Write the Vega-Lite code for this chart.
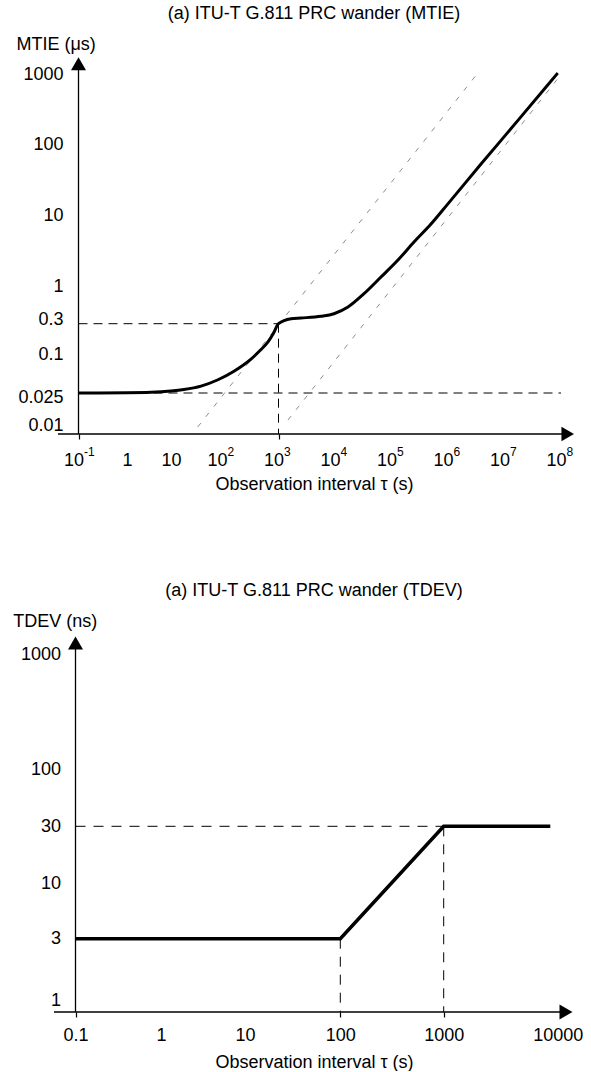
{
  "$schema": "https://vega.github.io/schema/vega-lite/v6.json",
  "padding": {"left": 12, "top": 5, "right": 5, "bottom": 0},
  "autosize": {"type": "pad"},
  "spacing": 89,
  "config": {
    "view": {"stroke": null},
    "font": "Liberation Sans",
    "axis": {"labelColor": "black", "titleColor": "black", "labelFont": "Liberation Sans", "titleFont": "Liberation Sans", "labelFontSize": 18, "titleFontSize": 18, "titleFontWeight": "normal", "grid": false, "domain": false, "labelFlush": false, "labelOverlap": false},
    "title": {"fontSize": 18, "fontWeight": "normal", "color": "black", "font": "Liberation Sans", "anchor": "middle", "frame": "group"}
  },
  "datasets": {
    "mtie_curve": [
      {"tau": 0.1, "v": 0.025}, {"tau": 1, "v": 0.0252}, {"tau": 3.51, "v": 0.0256}, {"tau": 10, "v": 0.0268},
      {"tau": 18, "v": 0.0283}, {"tau": 38.8, "v": 0.032}, {"tau": 83.5, "v": 0.0402}, {"tau": 163, "v": 0.0546},
      {"tau": 326, "v": 0.0842}, {"tau": 452, "v": 0.1107}, {"tau": 652, "v": 0.156}, {"tau": 820, "v": 0.2147}, {"tau": 1000, "v": 0.3},
      {"tau": 1664, "v": 0.3527}, {"tau": 2500, "v": 0.361}, {"tau": 5650, "v": 0.3815}, {"tau": 9600, "v": 0.415},
      {"tau": 16980, "v": 0.516}, {"tau": 32600, "v": 0.795}, {"tau": 65160, "v": 1.367}, {"tau": 130300, "v": 2.374},
      {"tau": 250000, "v": 4.26}, {"tau": 500000, "v": 7.64}, {"tau": 988000, "v": 14.6}, {"tau": 3840000, "v": 53.6},
      {"tau": 14700000, "v": 190}, {"tau": 58200000, "v": 698}, {"tau": 87500000, "v": 1031}
    ],
    "mtie_guides": [
      {"tau": 0.1, "v": 0.3, "tau2": 1000, "v2": 0.3},
      {"tau": 1000, "v": 0.3, "tau2": 1000, "v2": 0.0058},
      {"tau": 0.1, "v": 0.025, "tau2": 100000000, "v2": 0.025}
    ],
    "mtie_asym": [
      {"tau": 33.4, "v": 0.00886, "tau2": 3580000, "v2": 1099},
      {"tau": 1472, "v": 0.01154, "tau2": 92200000, "v2": 905}
    ],
    "mtie_axes": [
      {"tau": 0.0378, "v": 0.0058, "tau2": 131500000, "v2": 0.0058},
      {"tau": 0.1, "v": 0.0058, "tau2": 0.1, "v2": 1404}
    ],
    "mtie_up": [{"tau": 0.1, "v": 1404}],
    "mtie_right": [{"tau": 131500000, "v": 0.0058}],
    "tdev_curve": [{"tau": 0.1, "v": 3}, {"tau": 100, "v": 3}, {"tau": 1000, "v": 30}, {"tau": 8610, "v": 30}],
    "tdev_guides": [
      {"tau": 0.1, "v": 30, "tau2": 1000, "v2": 30},
      {"tau": 100, "v": 3, "tau2": 100, "v2": 0.79},
      {"tau": 1000, "v": 30, "tau2": 1000, "v2": 0.79}
    ],
    "tdev_axes": [
      {"tau": 0.0565, "v": 0.79, "tau2": 11823, "v2": 0.79},
      {"tau": 0.1, "v": 0.79, "tau2": 0.1, "v2": 1265}
    ],
    "tdev_up": [{"tau": 0.1, "v": 1265}],
    "tdev_right": [{"tau": 11823, "v": 0.79}]
  },
  "vconcat": [
    {
      "width": 520,
      "height": 377,
      "title": {"text": "(a) ITU-T G.811 PRC wander (MTIE)", "offset": 12},
      "resolve": {"axis": {"x": "independent"}},
      "encoding": {
        "x": {
          "field": "tau", "type": "quantitative",
          "scale": {"type": "log", "domain": [0.0312, 0.1, 1, 10, 100, 1000, 100000000, 170000000], "range": [0, 24.5, 73, 117, 168, 224.5, 507, 520], "nice": false, "clamp": false},
          "axis": null
        },
        "y": {
          "field": "v", "type": "quantitative",
          "scale": {"type": "log", "domain": [0.0058, 0.01, 0.025, 0.3, 1000, 1750], "range": [377, 368, 336, 266.7, 17, 0], "nice": false, "clamp": false},
          "axis": {
            "values": [0.01, 0.025, 0.1, 0.3, 1, 10, 100, 1000],
            "labelExpr": "format(datum.value, '~g')",
            "labelOffset": {"condition": [{"test": "datum.value == 0.025", "value": 4}, {"test": "datum.value == 0.3", "value": -4}], "value": 0},
            "title": "MTIE (μs)", "titleAngle": 0, "titleAlign": "left", "titleBaseline": "middle", "titleX": -47, "titleY": -13,
            "ticks": false, "tickSize": 0, "labelPadding": 0, "offset": -9, "labelBaseline": "middle"
          }
        }
      },
      "layer": [
        {"data": {"name": "mtie_asym"}, "mark": {"type": "rule", "color": "#707070", "strokeWidth": 0.8, "strokeDash": [5, 8]},
         "encoding": {"x2": {"field": "tau2"}, "y2": {"field": "v2"}}},
        {"data": {"name": "mtie_guides"}, "mark": {"type": "rule", "color": "black", "strokeWidth": 1, "strokeDash": [9, 6]},
         "encoding": {"x2": {"field": "tau2"}, "y2": {"field": "v2"}}},
        {"data": {"name": "mtie_axes"}, "mark": {"type": "rule", "color": "black", "strokeWidth": 1.3},
         "encoding": {
           "x": {
             "field": "tau", "type": "quantitative",
             "scale": {"type": "log", "domain": [0.0312, 0.1, 1, 10, 100, 1000, 100000000, 170000000], "range": [0, 24.5, 73, 117, 168, 224.5, 507, 520], "nice": false, "clamp": false},
             "axis": {
               "orient": "bottom",
               "values": [0.1, 1, 10, 100, 1000, 10000, 100000, 1000000, 10000000, 100000000],
               "labelExpr": "datum.value == 1 ? '1' : '10'",
               "labelOffset": {"condition": {"test": "datum.value == 1 || datum.value == 10", "value": 0}, "value": -5},
               "title": "Observation interval τ (s)",
               "ticks": true, "tickSize": 5, "tickWidth": 1.2,
               "tickColor": {"condition": {"test": "datum.value == 0.1 || datum.value == 1000", "value": "black"}, "value": "transparent"},
               "labelPadding": 21, "labelBaseline": "middle",
               "titleY": 50, "titleBaseline": "middle"
             }
           },
           "x2": {"field": "tau2"}, "y2": {"field": "v2"}}},
        {"data": {"name": "mtie_curve"}, "mark": {"type": "line", "color": "black", "strokeWidth": 3, "interpolate": "monotone"}, "encoding": {}},
        {"data": {"name": "mtie_up"}, "mark": {"type": "point", "shape": "triangle-up", "filled": true, "color": "black", "opacity": 1, "size": 225}, "encoding": {}},
        {"data": {"name": "mtie_right"}, "mark": {"type": "point", "shape": "triangle-right", "filled": true, "color": "black", "opacity": 1, "size": 210},
         "encoding": {
           "x": {
             "field": "tau", "type": "quantitative",
             "scale": {"type": "log", "domain": [0.0312, 0.1, 1, 10, 100, 1000, 100000000, 170000000], "range": [0, 24.5, 73, 117, 168, 224.5, 507, 520], "nice": false, "clamp": false},
             "axis": {
               "orient": "bottom",
               "values": [0.1, 100, 1000, 10000, 100000, 1000000, 10000000, 100000000],
               "labelExpr": "datum.value < 0.5 ? '-1' : format(round(log(datum.value) / LN10), 'd')",
               "labelAlign": "left", "labelOffset": 5, "labelFontSize": 12,
               "title": null, "ticks": false, "tickSize": 0,
               "labelPadding": 17, "labelBaseline": "middle"
             }
           }
         }}
      ]
    },
    {
      "width": 520,
      "height": 375,
      "title": {"text": "(a) ITU-T G.811 PRC wander (TDEV)", "offset": 12},
      "encoding": {
        "x": {
          "field": "tau", "type": "quantitative",
          "scale": {"type": "log", "domain": [0.0565, 0.1, 1, 10, 100, 1000, 10000, 13900], "range": [0, 21.5, 107, 191, 286.3, 389.7, 503.7, 520], "nice": false, "clamp": false},
          "axis": {
            "values": [0.1, 1, 10, 100, 1000, 10000],
            "labelExpr": "format(datum.value, '~g')",
            "title": "Observation interval τ (s)",
            "ticks": true, "tickSize": 5, "tickWidth": 1.2,
            "tickColor": {"condition": {"test": "datum.value == 0.1 || datum.value == 100 || datum.value == 1000", "value": "black"}, "value": "transparent"},
            "labelPadding": 18, "labelBaseline": "middle",
            "titleY": 50, "titleBaseline": "middle"
          }
        },
        "y": {
          "field": "v", "type": "quantitative",
          "scale": {"type": "log", "domain": [0.79, 1, 3, 10, 30, 100, 1000, 1426], "range": [375, 363.3, 301.7, 246.7, 189.3, 132.7, 17.7, 0], "nice": false, "clamp": false},
          "axis": {
            "values": [1, 3, 10, 30, 100, 1000],
            "labelExpr": "format(datum.value, '~g')",
            "title": "TDEV (ns)", "titleAngle": 0, "titleAlign": "left", "titleBaseline": "middle", "titleX": -47.8, "titleY": -16,
            "ticks": false, "tickSize": 0, "labelPadding": 0, "offset": -6.5, "labelBaseline": "middle"
          }
        }
      },
      "layer": [
        {"data": {"name": "tdev_guides"}, "mark": {"type": "rule", "color": "black", "strokeWidth": 1, "strokeDash": [10, 8]},
         "encoding": {"x2": {"field": "tau2"}, "y2": {"field": "v2"}}},
        {"data": {"name": "tdev_axes"}, "mark": {"type": "rule", "color": "black", "strokeWidth": 1.3},
         "encoding": {"x2": {"field": "tau2"}, "y2": {"field": "v2"}}},
        {"data": {"name": "tdev_curve"}, "mark": {"type": "line", "color": "black", "strokeWidth": 3.5}, "encoding": {}},
        {"data": {"name": "tdev_up"}, "mark": {"type": "point", "shape": "triangle-up", "filled": true, "color": "black", "opacity": 1, "size": 225}, "encoding": {}},
        {"data": {"name": "tdev_right"}, "mark": {"type": "point", "shape": "triangle-right", "filled": true, "color": "black", "opacity": 1, "size": 225}, "encoding": {}}
      ]
    }
  ]
}
